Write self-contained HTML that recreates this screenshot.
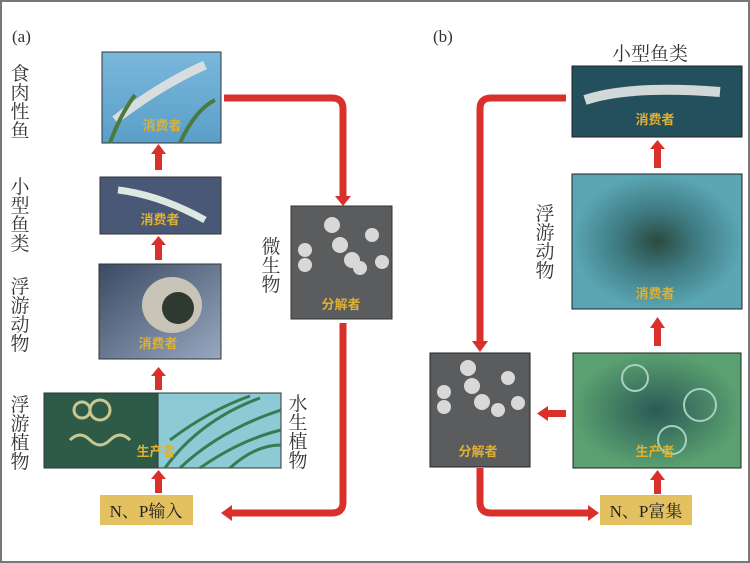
<!DOCTYPE html>
<html><head><meta charset="utf-8"><style>
body{margin:0;background:#fff}
svg{display:block}
text{font-family:"Liberation Serif","Noto Serif CJK SC",serif}
.l{font-size:19px;fill:#333}
.y{font-size:13px;fill:#e0b030;font-family:"Liberation Sans","Noto Sans CJK SC",sans-serif;font-weight:bold}
</style></head><body>
<svg width="750" height="563" viewBox="0 0 750 563" xmlns="http://www.w3.org/2000/svg">
<defs>
<linearGradient id="sky" x1="0" y1="0" x2="0" y2="1"><stop offset="0" stop-color="#7ab8dc"/><stop offset="1" stop-color="#5a9ec8"/></linearGradient>
<linearGradient id="zoo" x1="0" y1="0" x2="1" y2="1"><stop offset="0" stop-color="#3a4a62"/><stop offset="1" stop-color="#98a8c0"/></linearGradient>
<radialGradient id="zoo2"><stop offset="0" stop-color="#2a4a40"/><stop offset="0.45" stop-color="#3e7a80"/><stop offset="1" stop-color="#5aa6b4"/></radialGradient>
<radialGradient id="prod"><stop offset="0" stop-color="#2a5a56"/><stop offset="1" stop-color="#5aa070"/></radialGradient>
</defs>
<rect x="1" y="1" width="748" height="561" fill="#fff" stroke="#777" stroke-width="2"/>
<text x="12" y="42" class="l" style="font-size:17px">(a)</text>
<text x="433" y="42" class="l" style="font-size:17px">(b)</text>

<!-- LEFT panel -->
<rect x="102" y="52" width="119" height="91" fill="url(#sky)" stroke="#333"/>
<path d="M115 120 Q160 85 205 65" stroke="#d8dde0" stroke-width="9" fill="none"/>
<path d="M180 143 Q195 110 215 100 M110 143 Q120 115 135 95" stroke="#4a7a40" stroke-width="4" fill="none"/>
<text x="162" y="130" class="y" text-anchor="middle">消费者</text>

<rect x="100" y="177" width="121" height="57" fill="#4a5878" stroke="#333"/>
<path d="M118 190 Q160 195 205 220" stroke="#dde8e0" stroke-width="7" fill="none"/>
<text x="160" y="224" class="y" text-anchor="middle">消费者</text>

<rect x="99" y="264" width="122" height="95" fill="url(#zoo)" stroke="#333"/>
<ellipse cx="172" cy="305" rx="30" ry="28" fill="#c8c4b8"/>
<ellipse cx="178" cy="308" rx="16" ry="16" fill="#2e3a30"/>
<text x="158" y="348" class="y" text-anchor="middle">消费者</text>

<rect x="44" y="393" width="114" height="75" fill="#2e5a48" stroke="#333"/>
<rect x="158" y="393" width="123" height="75" fill="#8ccad6" stroke="#333"/>
<path d="M165 468 Q200 420 260 398 M180 468 Q220 430 281 410 M200 468 Q240 440 281 430 M170 440 Q210 410 250 396 M230 468 Q255 445 281 445" stroke="#3a7a50" stroke-width="3" fill="none"/>
<circle cx="82" cy="410" r="8" fill="none" stroke="#c8c890" stroke-width="3"/>
<circle cx="100" cy="410" r="10" fill="none" stroke="#c8c890" stroke-width="3"/>
<path d="M70 440 q10 -10 20 0 t20 0 t20 0" stroke="#c8c890" stroke-width="3" fill="none"/>
<text x="156" y="456" class="y" text-anchor="middle">生产者</text>

<rect x="100" y="495" width="93" height="30" fill="#e3c060"/>
<text x="146" y="517" class="l" text-anchor="middle" style="font-size:17px;fill:#222">N、P输入</text>

<rect x="291" y="206" width="101" height="113" fill="#5a5c5e" stroke="#333"/>
<g fill="#d8d8d8"><circle cx="332" cy="225" r="8"/><circle cx="340" cy="245" r="8"/><circle cx="352" cy="260" r="8"/><circle cx="305" cy="250" r="7"/><circle cx="305" cy="265" r="7"/><circle cx="372" cy="235" r="7"/><circle cx="382" cy="262" r="7"/><circle cx="360" cy="268" r="7"/></g>
<text x="341" y="309" class="y" text-anchor="middle">分解者</text>

<g fill="#d9302c">
<rect x="155" y="152" width="7" height="18"/><polygon points="151,154 166,154 158.5,144"/>
<rect x="155" y="243" width="7" height="17"/><polygon points="151,245 166,245 158.5,236"/>
<rect x="155" y="374" width="7" height="16"/><polygon points="151,376 166,376 158.5,367"/>
<rect x="155" y="477" width="7" height="16"/><polygon points="151,479 166,479 158.5,470"/>
</g>
<path d="M224 98 H332 Q343 98 343 109 V198" stroke="#d9302c" stroke-width="7" fill="none"/>
<polygon points="335,196 351,196 343,206" fill="#d9302c"/>
<path d="M343 323 V502 Q343 513 332 513 H230" stroke="#d9302c" stroke-width="7" fill="none"/>
<polygon points="232,505 232,521 221,513" fill="#d9302c"/>

<g class="l" text-anchor="middle">
<text x="20" y="80">食</text><text x="20" y="99">肉</text><text x="20" y="118">性</text><text x="20" y="137">鱼</text>
<text x="20" y="193">小</text><text x="20" y="212">型</text><text x="20" y="231">鱼</text><text x="20" y="250">类</text>
<text x="20" y="293">浮</text><text x="20" y="312">游</text><text x="20" y="331">动</text><text x="20" y="350">物</text>
<text x="20" y="411">浮</text><text x="20" y="430">游</text><text x="20" y="449">植</text><text x="20" y="468">物</text>
<text x="271" y="253">微</text><text x="271" y="272">生</text><text x="271" y="291">物</text>
<text x="298" y="410">水</text><text x="298" y="429">生</text><text x="298" y="448">植</text><text x="298" y="467">物</text>
</g>

<!-- RIGHT panel -->
<text x="650" y="60" class="l" text-anchor="middle">小型鱼类</text>
<rect x="572" y="66" width="170" height="71" fill="#24505e" stroke="#222"/>
<path d="M585 100 Q630 85 720 92" stroke="#d0d8d8" stroke-width="10" fill="none"/>
<text x="655" y="124" class="y" text-anchor="middle">消费者</text>

<rect x="572" y="174" width="170" height="135" fill="url(#zoo2)" stroke="#222"/>
<text x="655" y="298" class="y" text-anchor="middle">消费者</text>

<rect x="573" y="353" width="168" height="115" fill="url(#prod)" stroke="#222"/>
<circle cx="635" cy="378" r="13" fill="none" stroke="#a8d0c0" stroke-width="2"/>
<circle cx="700" cy="405" r="16" fill="none" stroke="#a8d0c0" stroke-width="2"/>
<circle cx="672" cy="440" r="14" fill="none" stroke="#a8d0c0" stroke-width="2"/>
<text x="655" y="456" class="y" text-anchor="middle">生产者</text>

<rect x="430" y="353" width="100" height="114" fill="#5a5c5e" stroke="#222"/>
<g fill="#d8d8d8"><circle cx="468" cy="368" r="8"/><circle cx="472" cy="386" r="8"/><circle cx="482" cy="402" r="8"/><circle cx="444" cy="392" r="7"/><circle cx="444" cy="407" r="7"/><circle cx="508" cy="378" r="7"/><circle cx="518" cy="403" r="7"/><circle cx="498" cy="410" r="7"/></g>
<text x="478" y="456" class="y" text-anchor="middle">分解者</text>

<rect x="600" y="495" width="92" height="30" fill="#e3c060"/>
<text x="646" y="517" class="l" text-anchor="middle" style="font-size:17px;fill:#222">N、P富集</text>

<g fill="#d9302c">
<rect x="654" y="147" width="7" height="21"/><polygon points="650,149 665,149 657.5,140"/>
<rect x="654" y="326" width="7" height="20"/><polygon points="650,328 665,328 657.5,317"/>
<rect x="654" y="478" width="7" height="16"/><polygon points="650,480 665,480 657.5,470"/>
<rect x="546" y="410" width="20" height="7"/><polygon points="548,406 548,421 537,413.5"/>
</g>
<path d="M566 98 H491 Q480 98 480 109 V343" stroke="#d9302c" stroke-width="7" fill="none"/>
<polygon points="472,341 488,341 480,352" fill="#d9302c"/>
<path d="M480 468 V502 Q480 513 491 513 H590" stroke="#d9302c" stroke-width="7" fill="none"/>
<polygon points="588,505 588,521 599,513" fill="#d9302c"/>

<g class="l" text-anchor="middle">
<text x="545" y="220">浮</text><text x="545" y="239">游</text><text x="545" y="258">动</text><text x="545" y="277">物</text>
</g>
</svg>
</body></html>
